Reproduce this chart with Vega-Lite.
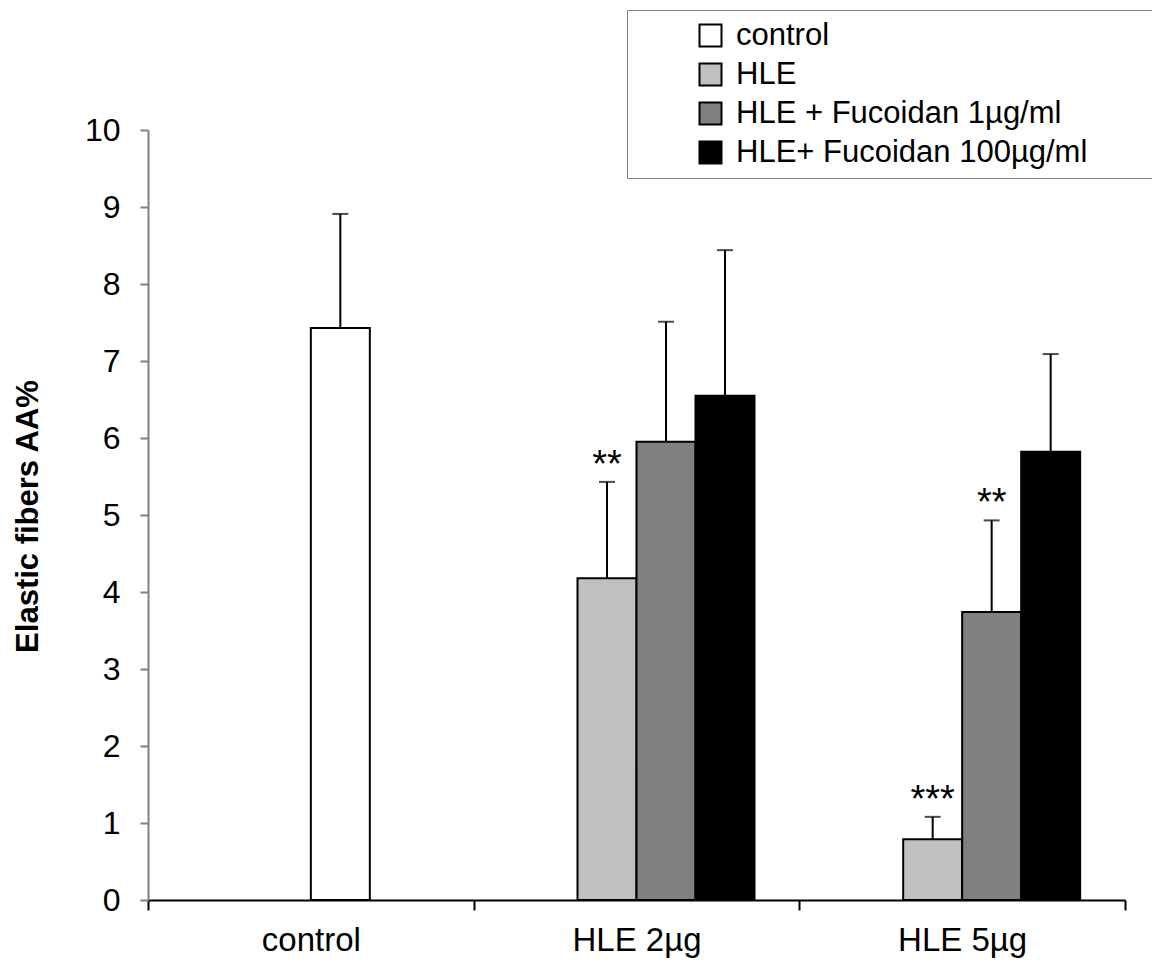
{
  "$schema": "https://vega.github.io/schema/vega-lite/v6.json",
  "width": 977,
  "height": 770,
  "autosize": {"type": "none"},
  "padding": {"left": 148, "top": 130, "right": 27, "bottom": 64},
  "background": "white",
  "config": {"font": "Liberation Sans", "view": {"stroke": null}},
  "data": {
    "values": [
      {"group": "control", "series": "control", "value": 7.43, "upper": 8.91, "sig": ""},
      {"group": "HLE 2µg", "series": "HLE", "value": 4.18, "upper": 5.43, "sig": "**"},
      {"group": "HLE 2µg", "series": "HLE + Fucoidan 1µg/ml", "value": 5.95, "upper": 7.51, "sig": ""},
      {"group": "HLE 2µg", "series": "HLE+ Fucoidan 100µg/ml", "value": 6.55, "upper": 8.44, "sig": ""},
      {"group": "HLE 5µg", "series": "HLE", "value": 0.79, "upper": 1.08, "sig": "***"},
      {"group": "HLE 5µg", "series": "HLE + Fucoidan 1µg/ml", "value": 3.74, "upper": 4.93, "sig": "**"},
      {"group": "HLE 5µg", "series": "HLE+ Fucoidan 100µg/ml", "value": 5.82, "upper": 7.09, "sig": ""}
    ]
  },
  "encoding": {
    "x": {
      "field": "group",
      "type": "nominal",
      "sort": ["control", "HLE 2µg", "HLE 5µg"],
      "scale": {"paddingInner": 0, "paddingOuter": 0},
      "axis": {
        "title": null,
        "labelAngle": 0,
        "labelFontSize": 33,
        "labelColor": "black",
        "labelPadding": 14,
        "tickBand": "extent",
        "tickSize": 10,
        "tickColor": "black",
        "tickWidth": 2,
        "domainColor": "black",
        "domainWidth": 2
      }
    },
    "y": {
      "field": "value",
      "type": "quantitative",
      "scale": {"domain": [0, 10], "nice": false},
      "axis": {
        "values": [0, 1, 2, 3, 4, 5, 6, 7, 8, 9, 10],
        "grid": false,
        "labelFontSize": 32,
        "labelColor": "black",
        "labelPadding": 20,
        "tickSize": 8,
        "tickColor": "#808080",
        "tickWidth": 2,
        "domainColor": "#808080",
        "domainWidth": 2,
        "title": "Elastic fibers AA%",
        "titleFontSize": 31,
        "titleFontWeight": "bold",
        "titleColor": "black",
        "titleAngle": 270,
        "titleX": -120,
        "titleY": 386,
        "titleAlign": "center",
        "titleBaseline": "middle"
      }
    }
  },
  "layer": [
    {
      "transform": [{"filter": "datum.series !== 'control'"}],
      "encoding": {
        "xOffset": {
          "field": "series",
          "type": "nominal",
          "scale": {
            "domain": ["control", "HLE", "HLE + Fucoidan 1µg/ml", "HLE+ Fucoidan 100µg/ml"],
            "paddingInner": 0,
            "paddingOuter": 0.76
          }
        }
      },
      "layer": [
        {
          "mark": {"type": "rule", "color": "black", "strokeWidth": 2},
          "encoding": {"y2": {"field": "upper"}}
        },
        {
          "mark": {"type": "bar", "stroke": "black", "strokeWidth": 2},
          "encoding": {
            "color": {
              "field": "series",
              "type": "nominal",
              "scale": {
                "domain": ["control", "HLE", "HLE + Fucoidan 1µg/ml", "HLE+ Fucoidan 100µg/ml"],
                "range": ["#ffffff", "#c0c0c0", "#808080", "#000000"]
              },
              "legend": {
                "orient": "none",
                "legendX": 479,
                "legendY": -120,
                "title": "\u2800",
                "titleOrient": "right",
                "titleFontSize": 31,
                "titlePadding": 40,
                "symbolType": "square",
                "symbolSize": 484,
                "symbolStrokeColor": "black",
                "symbolStrokeWidth": 2,
                "symbolOffset": 58,
                "labelFontSize": 31,
                "labelColor": "black",
                "labelOffset": 10,
                "rowPadding": 7,
                "padding": 10,
                "fillColor": "white",
                "strokeColor": "#808080",
                "labelLimit": 900
              }
            }
          }
        },
        {
          "mark": {"type": "tick", "orient": "horizontal", "color": "black", "size": 16, "thickness": 2},
          "encoding": {"y": {"field": "upper", "type": "quantitative"}}
        },
        {
          "mark": {"type": "text", "fontSize": 38, "color": "black", "baseline": "alphabetic", "dy": -5},
          "encoding": {"y": {"field": "upper", "type": "quantitative"}, "text": {"field": "sig"}}
        }
      ]
    },
    {
      "transform": [{"filter": "datum.series === 'control'"}],
      "encoding": {
        "xOffset": {
          "field": "series",
          "type": "nominal",
          "scale": {
            "domain": ["HLE", "HLE + Fucoidan 1µg/ml", "control", "HLE+ Fucoidan 100µg/ml"],
            "paddingInner": 0,
            "paddingOuter": 0.76
          }
        }
      },
      "layer": [
        {
          "mark": {"type": "rule", "color": "black", "strokeWidth": 2},
          "encoding": {"y2": {"field": "upper"}}
        },
        {
          "mark": {"type": "bar", "stroke": "black", "strokeWidth": 2},
          "encoding": {"color": {"field": "series", "type": "nominal"}}
        },
        {
          "mark": {"type": "tick", "orient": "horizontal", "color": "black", "size": 16, "thickness": 2},
          "encoding": {"y": {"field": "upper", "type": "quantitative"}}
        }
      ]
    }
  ],
  "resolve": {"scale": {"xOffset": "independent"}}
}
